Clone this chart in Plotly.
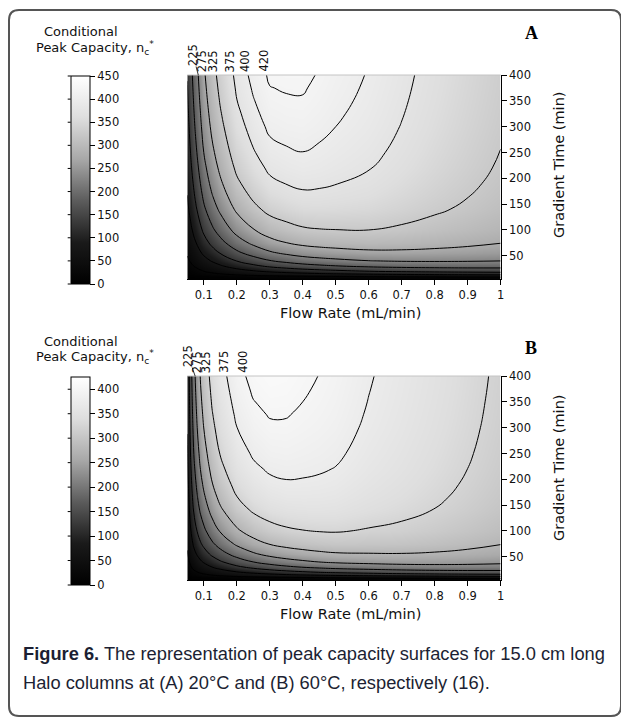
import numpy as np
import plotly.graph_objects as go

# page body has an 8px margin, so the figure is drawn 8px in from the window corner
PAGE_W, PAGE_H, OFF = 629, 724, 8
W, H = PAGE_W - OFF, PAGE_H - OFF

# ---------------- data ----------------
gradient_time = [5, 10, 15, 20, 30, 40, 55, 75, 100, 140, 165, 190, 220, 250, 300, 325, 350, 375, 400]

flow_rate_a = [0.05, 0.06, 0.075, 0.1, 0.125, 0.15, 0.2, 0.25, 0.3, 0.35, 0.4, 0.45, 0.5, 0.6, 0.7, 0.8, 0.9, 1.0]
# conditional peak capacity, panel A (20 C); one list per flow rate, values along gradient_time
peak_capacity_a = [
    [0, 1.4, 4.7, 7.9, 14, 20, 28, 39, 50, 66, 74.3, 82, 90.5, 98, 109, 114.1, 119, 122.8, 127],
    [0, 1.9, 6.5, 11, 19.5, 27.5, 38.6, 51.9, 66.7, 86.6, 97.3, 106.8, 117, 126, 139, 144.8, 150, 154.9, 159.4],
    [0, 2.8, 9.5, 15.9, 28, 39.2, 54.5, 72.5, 91.9, 117.4, 130.7, 142.4, 154.7, 165.5, 180.7, 187.2, 193.2, 198.7, 203.7],
    [0, 4.4, 14.9, 24.9, 43.3, 60, 82.1, 107.4, 133.7, 166.8, 183.5, 197.8, 212.5, 225.2, 242.6, 250, 256.7, 262.7, 268.3],
    [0, 5.9, 20, 33.2, 57, 78.1, 105.6, 135.9, 166.6, 203.8, 222, 237.4, 253, 266.1, 283.9, 291.3, 298, 304, 309.5],
    [0, 7.4, 24.9, 41, 69.8, 94.7, 126.3, 160.5, 194, 233.5, 252.4, 268.1, 283.8, 296.9, 314.4, 321.6, 328.1, 333.8, 339.1],
    [0, 10.5, 34.8, 56.7, 94.4, 125.9, 164.2, 203.8, 240.9, 282.7, 301.8, 317.4, 332.7, 345.2, 361.6, 368.3, 374.3, 379.5, 384.2],
    [0, 13.3, 43.6, 70.2, 114.8, 150.6, 192.8, 234.8, 272.6, 313.7, 332, 346.7, 360.9, 372.3, 387.2, 393.2, 398.4, 403.1, 407.3],
    [0, 16.1, 52.1, 83, 133.2, 172.2, 216.9, 259.9, 297.5, 337.1, 354.4, 368.1, 381.1, 391.7, 405.1, 410.5, 415.2, 419.4, 423.1],
    [0, 18.4, 58.8, 92.7, 146.4, 186.9, 232.1, 274.3, 310.3, 347.4, 363.3, 375.8, 387.6, 397, 409, 413.8, 417.9, 421.6, 424.8],
    [0, 20.6, 65.1, 101.6, 157.9, 199.4, 244.4, 285.6, 319.9, 354.5, 369.1, 380.5, 391.3, 399.7, 410.5, 414.8, 418.5, 421.7, 424.6],
    [0, 22.5, 70.2, 108.5, 166.2, 207.6, 251.7, 291.1, 323.3, 355.3, 368.7, 379, 388.7, 396.3, 405.9, 409.7, 413, 415.9, 418.5],
    [0, 24.2, 74.7, 114.4, 172.9, 214, 256.8, 294.3, 324.5, 354.1, 366.3, 375.7, 384.5, 391.4, 400, 403.4, 406.4, 409, 411.3],
    [0, 27.5, 82.8, 124.8, 184, 223.9, 264.1, 298.2, 325, 350.5, 360.9, 368.9, 376.2, 382, 389.1, 391.9, 394.4, 396.5, 398.4],
    [0, 30.1, 88.8, 131.7, 190, 227.9, 265, 295.7, 319.2, 341.4, 350.2, 357, 363.2, 368, 374, 376.3, 378.3, 380.1, 381.7],
    [0, 32.3, 93.3, 136.4, 193, 228.7, 262.7, 290.2, 311, 330.3, 337.9, 343.7, 349, 353.1, 358.2, 360.1, 361.9, 363.3, 364.6],
    [0, 34.1, 96.9, 139.7, 194.3, 227.7, 258.9, 283.7, 302.2, 319, 325.7, 330.7, 335.3, 338.8, 343.2, 344.9, 346.3, 347.6, 348.7],
    [0, 35.7, 99.4, 141.6, 193.8, 225, 253.6, 275.9, 292.4, 307.3, 313.1, 317.5, 321.5, 324.5, 328.3, 329.8, 331.1, 332.2, 333.1],
]

flow_rate_b = [0.05, 0.055, 0.06, 0.07, 0.08, 0.09, 0.1, 0.125, 0.15, 0.2, 0.25, 0.3, 0.35, 0.4, 0.45, 0.5, 0.6, 0.7,
               0.8, 0.9, 1.0]
# conditional peak capacity, panel B (60 C)
peak_capacity_b = [
    [0, 1.1, 3.8, 6.4, 11.3, 15.9, 22.2, 29.7, 37.9, 48.8, 54.6, 59.7, 65.1, 69.9, 76.7, 79.7, 82.4, 84.9, 87.2],
    [0, 1.6, 5.5, 9.3, 16.3, 22.9, 31.8, 42.4, 53.8, 68.8, 76.6, 83.5, 90.8, 97.1, 106.1, 110, 113.5, 116.8, 119.8],
    [0, 2.2, 7.5, 12.6, 22.1, 30.9, 42.8, 56.7, 71.5, 90.9, 100.8, 109.6, 118.7, 126.6, 137.8, 142.6, 146.9, 150.9, 154.6],
    [0, 3.3, 11.3, 18.9, 33, 45.9, 63, 82.7, 103.4, 129.6, 142.9, 154.4, 166.3, 176.5, 190.7, 196.7, 202.2, 207.2, 211.7],
    [0, 4.3, 14.5, 24.1, 41.7, 57.6, 78.5, 102.2, 126.5, 156.9, 172, 184.9, 198.1, 209.4, 224.9, 231.4, 237.3, 242.6, 247.4],
    [0, 5.2, 17.6, 29.2, 50.2, 68.9, 93.3, 120.4, 147.9, 181.5, 197.9, 211.9, 226, 238, 254.3, 261.1, 267.2, 272.7, 277.7],
    [0, 6, 20.3, 33.6, 57.6, 78.6, 105.7, 135.4, 164.9, 200.5, 217.7, 232.2, 246.7, 258.9, 275.4, 282.3, 288.4, 293.9, 298.9],
    [0, 8.1, 27, 44.3, 74.7, 100.7, 133.2, 167.7, 200.9, 239.4, 257.5, 272.4, 287.1, 299.3, 315.6, 322.3, 328.2, 333.5, 338.3],
    [0, 10, 33.2, 54, 89.9, 119.7, 156.1, 193.5, 228.6, 268, 286.1, 300.7, 315.2, 326.9, 342.3, 348.7, 354.2, 359.2, 363.6],
    [0, 13.7, 44.5, 71.4, 115.8, 151.1, 192.2, 232.5, 268.4, 306.9, 323.9, 337.5, 350.5, 361, 374.6, 380.1, 384.9, 389.1, 392.9],
    [0, 17, 54.6, 86.3, 136.8, 175.2, 218.4, 259, 293.9, 330, 345.6, 357.8, 369.4, 378.6, 390.5, 395.2, 399.3, 402.9, 406.1],
    [0, 20.1, 63.5, 99, 153.6, 193.8, 237.3, 277, 310.1, 343.4, 357.4, 368.4, 378.6, 386.8, 397.1, 401.2, 404.7, 407.8, 410.6],
    [0, 22.9, 71, 109.4, 166.7, 207.3, 250.2, 288.2, 319.2, 349.6, 362.3, 372.1, 381.2, 388.4, 397.5, 401, 404.1, 406.8, 409.2],
    [0, 25.4, 77.6, 118.1, 176.8, 217.3, 258.9, 294.9, 323.7, 351.5, 362.9, 371.6, 379.8, 386.1, 394.1, 397.3, 400, 402.4, 404.5],
    [0, 27.8, 83.7, 125.9, 185.5, 225.5, 265.7, 299.7, 326.5, 352, 362.3, 370.2, 377.5, 383.3, 390.4, 393.2, 395.6, 397.7, 399.6],
    [0, 30, 89.1, 132.6, 192.5, 231.7, 270.4, 302.6, 327.5, 350.9, 360.3, 367.5, 374.1, 379.3, 385.6, 388.2, 390.3, 392.2, 393.9],
    [0, 33.6, 97.2, 141.8, 200.5, 237.3, 272.4, 300.7, 322.1, 341.9, 349.7, 355.7, 361.1, 365.3, 370.5, 372.5, 374.3, 375.8, 377.2],
    [0, 37, 104.3, 149.6, 206.6, 241.1, 273.1, 298.3, 317, 334, 340.7, 345.7, 350.3, 353.8, 358.2, 359.9, 361.4, 362.6, 363.8],
    [0, 39.9, 109.6, 154.6, 209.4, 241.4, 270.5, 292.9, 309.4, 324.1, 329.9, 334.2, 338.1, 341.1, 344.8, 346.2, 347.5, 348.6, 349.5],
    [0, 42.2, 113.3, 157.5, 209.5, 239.1, 265.5, 285.5, 299.9, 312.8, 317.8, 321.5, 324.9, 327.5, 330.7, 331.9, 332.9, 333.9, 334.7],
    [0, 44.0, 115.5, 158.4, 207.4, 234.6, 258.5, 276.3, 289.1, 300.4, 304.8, 308, 310.9, 313.2, 315.9, 317, 317.9, 318.7, 319.4],
]

x_tickvals = [0.1, 0.2, 0.3, 0.4, 0.5, 0.6, 0.7, 0.8, 0.9, 1.0]
x_ticktext = ["0.1", "0.2", "0.3", "0.4", "0.5", "0.6", "0.7", "0.8", "0.9", "1"]
y_tickvals = [50, 100, 150, 200, 250, 300, 350, 400]
cbar_ticks_a = [0, 50, 100, 150, 200, 250, 300, 350, 400, 450]
cbar_ticks_b = [0, 50, 100, 150, 200, 250, 300, 350, 400]
label_levels_a = [225, 275, 325, 375, 400, 420]
label_levels_b = [225, 275, 325, 375, 400]

# ---------------- styling / layout constants (window pixels) ----------------
FONT = "DejaVu Sans"
TXT = "#111111"
X_RANGE = [0.05, 1.0]
Y_RANGE = [5, 400]
PLOT_L, PLOT_R = 187.3, 500.7
CB_L, CB_THICK, CB_LEN = 70.7, 18.6, 208
PANELS = {
    "A": dict(top=75, bottom=279, cbar_top=76, cmax=450, title_y=(32, 48), letter_y=33,
              xtitle_y=313, ytitle_y=165),
    "B": dict(top=376, bottom=580, cbar_top=377, cmax=425, title_y=(341, 357), letter_y=348,
              xtitle_y=614, ytitle_y=468),
}
GRAY = [[0.0, "#000000"], [0.2, "#1a1a1a"], [0.4, "#5c5c5c"], [0.6, "#a8a8a8"], [0.8, "#dedede"],
        [1.0, "#ffffff"]]


def fx(p):
    return (p - OFF) / W


def fy(p):
    return 1 - (p - OFF) / H


fig = go.Figure()
annotations = []
shapes = []

panel_data = [
    ("A", flow_rate_a, peak_capacity_a, cbar_ticks_a, label_levels_a, [(25, 375, 50), (400, 420, 20)], ""),
    ("B", flow_rate_b, peak_capacity_b, cbar_ticks_b, label_levels_b, [(25, 375, 50), (400, 400, 50)], "2"),
]

for name, flows, cols, cticks, lab_levels, level_sets, sfx in panel_data:
    P = PANELS[name]
    z = np.array(cols, dtype=float).T  # rows: gradient time, cols: flow rate
    xa = "x" + sfx
    ya = "y" + sfx
    fig.add_trace(go.Heatmap(
        x=flows, y=gradient_time, z=z, zsmooth="best", colorscale=GRAY,
        zmin=0, zmax=P["cmax"], xaxis=xa, yaxis=ya, hoverinfo="skip",
        colorbar=dict(
            x=fx(CB_L), xanchor="left", xref="paper", y=fy(P["cbar_top"]), yanchor="top", yref="paper",
            len=CB_LEN, lenmode="pixels", thickness=CB_THICK, thicknessmode="pixels",
            xpad=0, ypad=0, outlinewidth=1, outlinecolor="black",
            ticks="outside", ticklen=5, tickwidth=1, tickcolor="black", tickprefix=" ",
            tickvals=cticks, tickfont=dict(family=FONT, size=11.5, color=TXT),
        ),
    ))
    for (s, e, sz) in level_sets:
        fig.add_trace(go.Contour(
            x=flows, y=gradient_time, z=z, autocontour=False,
            contours=dict(start=s, end=e, size=sz, coloring="none"),
            line=dict(color="black", width=1, smoothing=1.3),
            showscale=False, xaxis=xa, yaxis=ya, hoverinfo="skip",
        ))

    # small ticks on the left side of the colour bar, at the colour-bar tick values
    for v in cticks:
        py = P["cbar_top"] + (1 - v / P["cmax"]) * CB_LEN
        shapes.append(dict(type="line", xref="paper", yref="paper", x0=fx(CB_L - 3), x1=fx(CB_L),
                           y0=fy(py), y1=fy(py), line=dict(color="black", width=1)))

    # contour labels above the top edge, derived from the top row of the surface
    top_row = z[-1]
    ppu = (PLOT_R - PLOT_L) / (X_RANGE[1] - X_RANGE[0])
    placed = []
    next_px = 1e9
    for lev in reversed(lab_levels):
        xc = None
        for i in range(len(flows) - 1):
            a, b = top_row[i], top_row[i + 1]
            if a < lev <= b:
                xc = flows[i] + (lev - a) * (flows[i + 1] - flows[i]) / (b - a)
                break
        if xc is None:
            continue
        line_px = (xc - X_RANGE[0]) * ppu
        lab_px = min(line_px - 3, next_px - 9)
        next_px = lab_px
        placed.append((lev, xc, lab_px - line_px))
    for lev, xc, shift in placed:
        leader = shift < -5
        annotations.append(dict(
            x=xc, y=Y_RANGE[1], xref=xa, yref=ya, text=str(lev), textangle=-90,
            showarrow=True, arrowhead=0, arrowwidth=0.8, standoff=0,
            arrowcolor="black" if leader else "rgba(0,0,0,0)",
            ax=shift, ay=-20 if leader else -14, borderpad=0,
            font=dict(family=FONT, size=11.5, color=TXT),
        ))

    # colorbar title
    annotations.append(dict(x=fx(81), y=fy(P["title_y"][0]), xref="paper", yref="paper",
                            text="Conditional", showarrow=False, xanchor="center", yanchor="middle",
                            font=dict(family=FONT, size=13, color=TXT)))
    annotations.append(dict(x=fx(34), y=fy(P["title_y"][1]), xref="paper", yref="paper",
                            text="Peak Capacity, n<sub>c</sub><sup>*</sup>", showarrow=False,
                            xanchor="left", yanchor="middle",
                            font=dict(family=FONT, size=13, color=TXT)))
    # panel letter
    annotations.append(dict(x=fx(531), y=fy(P["letter_y"]), xref="paper", yref="paper",
                            text="<b>%s</b>" % name, showarrow=False, xanchor="center", yanchor="middle",
                            font=dict(family="Liberation Serif", size=18, color="black")))
    # axis titles
    annotations.append(dict(x=fx(350), y=fy(P["xtitle_y"]), xref="paper", yref="paper",
                            text="Flow Rate (mL/min)", showarrow=False, xanchor="center", yanchor="middle",
                            font=dict(family=FONT, size=14.5, color=TXT)))
    annotations.append(dict(x=fx(559), y=fy(P["ytitle_y"]), xref="paper", yref="paper",
                            text="Gradient Time (min)", showarrow=False, textangle=-90,
                            xanchor="center", yanchor="middle",
                            font=dict(family=FONT, size=14.5, color=TXT)))
    # faint top edge of the plot area
    shapes.append(dict(type="line", xref=xa + " domain", yref=ya + " domain", x0=0, x1=1, y0=1, y1=1,
                       line=dict(color="#c4c4c4", width=1)))

# caption (two lines)
CAP_FONT = dict(family="Liberation Sans, Arial, sans-serif", size=18.3, color="#1c1f33")
annotations.append(dict(
    x=fx(21), y=fy(653), xref="paper", yref="paper", xanchor="left", yanchor="middle", align="left",
    showarrow=False, font=CAP_FONT,
    text="<b>Figure 6.</b> The representation of peak capacity surfaces for 15.0 cm long"))
annotations.append(dict(
    x=fx(21), y=fy(682), xref="paper", yref="paper", xanchor="left", yanchor="middle", align="left",
    showarrow=False, font=CAP_FONT,
    text="Halo columns at (A) 20°C and (B) 60°C, respectively (16)."))

# rounded frame
bx0, by0, bx1, by1, r = 9, 10, 621, 716, 10
path = (f"M {fx(bx0 + r)},{fy(by0)} L {fx(bx1 - r)},{fy(by0)} Q {fx(bx1)},{fy(by0)} {fx(bx1)},{fy(by0 + r)} "
        f"L {fx(bx1)},{fy(by1 - r)} Q {fx(bx1)},{fy(by1)} {fx(bx1 - r)},{fy(by1)} "
        f"L {fx(bx0 + r)},{fy(by1)} Q {fx(bx0)},{fy(by1)} {fx(bx0)},{fy(by1 - r)} "
        f"L {fx(bx0)},{fy(by0 + r)} Q {fx(bx0)},{fy(by0)} {fx(bx0 + r)},{fy(by0)} Z")
shapes.append(dict(type="path", path=path, xref="paper", yref="paper", line=dict(color="#555555", width=2)))

axis_common = dict(showgrid=False, zeroline=False, showline=True, linecolor="black", linewidth=1,
                   ticks="outside", ticklen=5, tickwidth=1, tickcolor="black",
                   tickfont=dict(family=FONT, size=11.5, color=TXT), automargin=False)

fig.update_layout(
    width=W, height=H, margin=dict(l=0, r=0, t=0, b=0, pad=0),
    paper_bgcolor="white", plot_bgcolor="white", showlegend=False,
    xaxis=dict(domain=[fx(PLOT_L), fx(PLOT_R)], range=X_RANGE, anchor="y",
               tickvals=x_tickvals, ticktext=x_ticktext, **axis_common),
    yaxis=dict(domain=[fy(PANELS["A"]["bottom"]), fy(PANELS["A"]["top"])], range=Y_RANGE, anchor="x",
               side="right", tickvals=y_tickvals, **axis_common),
    xaxis2=dict(domain=[fx(PLOT_L), fx(PLOT_R)], range=X_RANGE, anchor="y2",
                tickvals=x_tickvals, ticktext=x_ticktext, **axis_common),
    yaxis2=dict(domain=[fy(PANELS["B"]["bottom"]), fy(PANELS["B"]["top"])], range=Y_RANGE, anchor="x2",
                side="right", tickvals=y_tickvals, **axis_common),
    annotations=annotations, shapes=shapes,
)

fig.write_html("out.html")
